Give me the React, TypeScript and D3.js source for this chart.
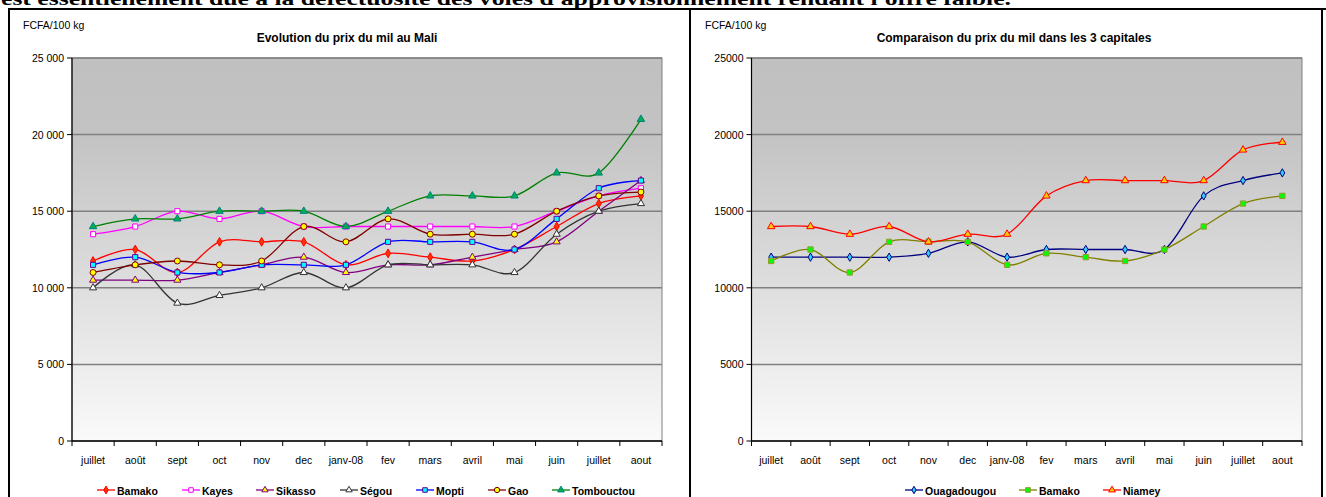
import React from "react";
import * as d3 from "d3";

const months = ["juillet", "août", "sept", "oct", "nov", "dec", "janv-08", "fev", "mars", "avril", "mai", "juin", "juillet", "aout"];

const bamako = [11750, 12500, 11000, 13000, 13000, 13000, 11500, 12250, 12000, 11750, 12500, 14000, 15500, 16000];
const kayes = [13500, 14000, 15000, 14500, 15000, 14000, 14000, 14000, 14000, 14000, 14000, 15000, 16000, 16500];
const sikasso = [10500, 10500, 10500, 11000, 11500, 12000, 11000, 11500, 11500, 12000, 12500, 13000, 15000, 17000];
const segou = [10000, 11500, 9000, 9500, 10000, 11000, 10000, 11500, 11500, 11500, 11000, 13500, 15000, 15500];
const mopti = [11500, 12000, 11000, 11000, 11500, 11500, 11500, 13000, 13000, 13000, 12500, 14500, 16500, 17000];
const gao = [11000, 11500, 11750, 11500, 11750, 14000, 13000, 14500, 13500, 13500, 13500, 15000, 16000, 16250];
const tombouctou = [14000, 14500, 14500, 15000, 15000, 15000, 14000, 15000, 16000, 16000, 16000, 17500, 17500, 21000];

const ouagadougou = [12000, 12000, 12000, 12000, 12250, 13000, 12000, 12500, 12500, 12500, 12500, 16000, 17000, 17500];
const bamakoCap = [11750, 12500, 11000, 13000, 13000, 13000, 11500, 12250, 12000, 11750, 12500, 14000, 15500, 16000];
const niamey = [14000, 14000, 13500, 14000, 13000, 13500, 13500, 16000, 17000, 17000, 17000, 17000, 19000, 19500];

const yTicks = [0, 5000, 10000, 15000, 20000, 25000];

type Series = { name: string; values: number[]; line: string; fill: string; stroke: string; symbol: d3.SymbolType; size: number };

const leftSeries: Series[] = [
  { name: "Bamako", values: bamako, line: "#FF0000", fill: "#FF3300", stroke: "#FF0000", symbol: d3.symbolDiamond, size: 22 },
  { name: "Kayes", values: kayes, line: "#FF00FF", fill: "#FFFFFF", stroke: "#FF00FF", symbol: d3.symbolSquare, size: 26 },
  { name: "Sikasso", values: sikasso, line: "#800080", fill: "#FFFF00", stroke: "#800080", symbol: d3.symbolTriangle, size: 22 },
  { name: "Ségou", values: segou, line: "#333333", fill: "#FFFFFF", stroke: "#333333", symbol: d3.symbolTriangle, size: 22 },
  { name: "Mopti", values: mopti, line: "#0000FF", fill: "#00FFFF", stroke: "#660099", symbol: d3.symbolSquare, size: 26 },
  { name: "Gao", values: gao, line: "#800000", fill: "#FFFF00", stroke: "#800000", symbol: d3.symbolCircle, size: 28 },
  { name: "Tombouctou", values: tombouctou, line: "#008000", fill: "#00B050", stroke: "#008080", symbol: d3.symbolTriangle, size: 24 },
];

const rightSeries: Series[] = [
  { name: "Ouagadougou", values: ouagadougou, line: "#000080", fill: "#33CCFF", stroke: "#000080", symbol: d3.symbolDiamond, size: 20 },
  { name: "Bamako", values: bamakoCap, line: "#808000", fill: "#00FF00", stroke: "#999933", symbol: d3.symbolSquare, size: 28 },
  { name: "Niamey", values: niamey, line: "#FF0000", fill: "#FFCC00", stroke: "#FF0000", symbol: d3.symbolTriangle, size: 24 },
];

const FONT = "'Liberation Sans', Arial, sans-serif";

type ChartProps = {
  id: string;
  left: number;
  right: number;
  top: number;
  bottom: number;
  series: Series[];
  title: string;
  titleX: number;
  unitX: number;
  fmt: (v: number) => string;
  legendXs: number[];
};

function Chart(p: ChartProps) {
  const idx = months.map((_, i) => String(i));
  const x = d3.scaleBand<string>().domain(idx).range([p.left, p.right]).padding(0);
  const y = d3.scaleLinear().domain([0, 25000]).range([p.bottom, p.top]);
  const cx = (i: number) => (x(String(i)) as number) + x.bandwidth() / 2;
  const line = d3
    .line<number>()
    .x((_, i) => cx(i))
    .y((v) => y(v))
    .curve(d3.curveCatmullRom.alpha(0));
  const boundaries = d3.range(months.length + 1).map((i) => p.left + i * x.bandwidth());
  return (
    <g>
      <defs>
        <linearGradient id={p.id + "g"} x1="0" y1="0" x2="0" y2="1">
          <stop offset="0" stopColor="#c0c0c0" />
          <stop offset="0.2" stopColor="#c3c3c3" />
          <stop offset="1" stopColor="#fafafa" />
        </linearGradient>
        <clipPath id={p.id + "c"}>
          <rect x={p.left - 6} y={p.top - 6} width={p.right - p.left + 12} height={p.bottom - p.top + 12} />
        </clipPath>
      </defs>
      <text x={p.unitX} y={29} fontFamily={FONT} fontSize={10.5} fill="#000">FCFA/100 kg</text>
      <text x={p.titleX} y={42} fontFamily={FONT} fontSize={12} fontWeight="bold" textAnchor="middle" fill="#000">{p.title}</text>
      <rect x={p.left} y={p.top} width={p.right - p.left} height={p.bottom - p.top} fill={`url(#${p.id}g)`} stroke="#808080" strokeWidth={1} />
      {yTicks.filter((t) => t > 0).map((t) => (
        <line key={t} x1={p.left} x2={p.right} y1={y(t)} y2={y(t)} stroke="#808080" strokeWidth={1.5} />
      ))}
      <line x1={p.left} x2={p.left} y1={p.top} y2={p.bottom} stroke="#000" strokeWidth={1.2} />
      {yTicks.map((t) => (
        <g key={t}>
          <line x1={p.left - 5} x2={p.left} y1={y(t)} y2={y(t)} stroke="#000" strokeWidth={1} />
          <text x={p.left - 8} y={y(t) + 4} fontFamily={FONT} fontSize={10.5} textAnchor="end" fill="#000">{p.fmt(t)}</text>
        </g>
      ))}
      <line x1={p.left} x2={p.right} y1={p.bottom} y2={p.bottom} stroke="#000" strokeWidth={1.5} />
      {boundaries.map((b, i) => (
        <line key={i} x1={b} x2={b} y1={p.bottom} y2={p.bottom + 5} stroke="#000" strokeWidth={1} />
      ))}
      {months.map((m, i) => (
        <text key={i} x={cx(i)} y={464} fontFamily={FONT} fontSize={10.5} textAnchor="middle" fill="#000">{m}</text>
      ))}
      <g clipPath={`url(#${p.id}c)`}>
        {p.series.map((s) => (
          <g key={s.name}>
            <path d={line(s.values) as string} fill="none" stroke={s.line} strokeWidth={1.3} />
            {s.values.map((v, i) => (
              <path key={i} d={d3.symbol().type(s.symbol).size(s.size)() as string} transform={`translate(${cx(i)},${y(v)})`} fill={s.fill} stroke={s.stroke} strokeWidth={1} />
            ))}
          </g>
        ))}
      </g>
      {p.series.map((s, k) => {
        const lx = p.legendXs[k];
        return (
          <g key={s.name}>
            <line x1={lx} x2={lx + 18} y1={490} y2={490} stroke={s.line} strokeWidth={1.3} />
            <path d={d3.symbol().type(s.symbol).size(s.size * 0.8)() as string} transform={`translate(${lx + 9},490)`} fill={s.fill} stroke={s.stroke} strokeWidth={1} />
            <text x={lx + 20} y={494.5} fontFamily={FONT} fontSize={10.5} fontWeight="bold" fill="#000">{s.name}</text>
          </g>
        );
      })}
    </g>
  );
}

export default function App() {
  const fmtSpace = (v: number) => (v >= 1000 ? `${Math.floor(v / 1000)} ${String(v % 1000).padStart(3, "0")}` : String(v));
  const fmtPlain = (v: number) => String(v);
  return (
    <svg width={1326} height={497} style={{ position: "absolute", left: 0, top: 0, background: "#fff" }}>
      <rect x={0} y={0} width={1326} height={497} fill="#fff" />
      <text x={1} y={5} fontFamily="'Liberation Serif', 'Times New Roman', serif" fontSize={19} fontWeight="bold" textLength={1010} lengthAdjust="spacingAndGlyphs" fill="#000">
        est essentiellement due à la défectuosité des voies d'approvisionnement rendant l'offre faible.
      </text>
      <line x1={8} x2={1326} y1={9} y2={9} stroke="#000" strokeWidth={2} />
      <line x1={9} x2={9} y1={8} y2={497} stroke="#000" strokeWidth={2} />
      <line x1={690} x2={690} y1={8} y2={497} stroke="#000" strokeWidth={2} />
      <line x1={1322} x2={1322} y1={8} y2={497} stroke="#000" strokeWidth={2} />
      <Chart
        id="l"
        left={72}
        right={662}
        top={58}
        bottom={441}
        series={leftSeries}
        title="Evolution du prix du mil au Mali"
        titleX={347}
        unitX={23}
        fmt={fmtSpace}
        legendXs={[97, 182, 256, 340, 416, 488, 552]}
      />
      <Chart
        id="r"
        left={751.5}
        right={1302}
        top={58}
        bottom={441}
        series={rightSeries}
        title="Comparaison du prix du mil dans les 3 capitales"
        titleX={1014}
        unitX={705}
        fmt={fmtPlain}
        legendXs={[905, 1019, 1103]}
      />
    </svg>
  );
}
